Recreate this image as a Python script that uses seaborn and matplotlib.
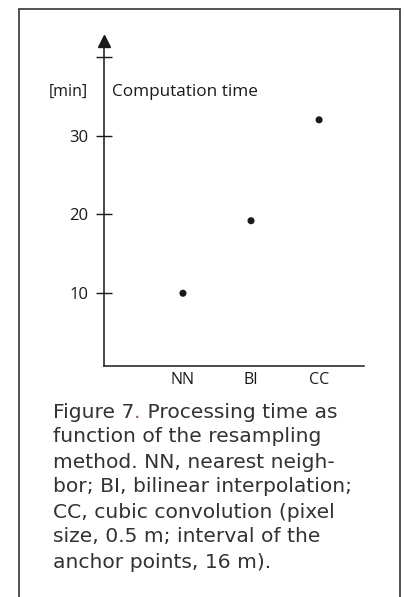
import numpy as np
import pandas as pd
import matplotlib
matplotlib.use("Agg")
import matplotlib.pyplot as plt
from matplotlib.patches import Rectangle
import seaborn as sns

# données
methods = ["NN", "BI", "CC"]
comp_time = [10.0, 19.2, 32.0]
y_ticks = [10, 20, 30, 40]
y_tick_labels = ["10", "20", "30", ""]

caption_lines = ["function of the resampling",
                 "method. NN, nearest neigh-",
                 "bor; BI, bilinear interpolation;",
                 "CC, cubic convolution (pixel",
                 "size, 0.5 m; interval of the",
                 "anchor points, 16 m)."]

sns.set_theme(style="white")
plt.rcParams['font.family'] = ['Open Sans', 'DejaVu Sans']

W, H = 404, 597
fig = plt.figure(figsize=(W / 100, H / 100), dpi=100)
ink = "#1a1a1a"
cap_col = "#333333"
cap_font = ["DejaVu Sans"]
cap_size = 14.6

# cadre autour de la figure
fig.add_artist(Rectangle((18.5 / W, -0.05), (400 - 18.5) / W, 1.05 - 9 / H,
                         transform=fig.transFigure, fill=False,
                         edgecolor="#444444", linewidth=1.3))

# axes positionnés en pixels
x0, x1, y_top, y_bot = 104, 364, 41, 366
ax = fig.add_axes([x0 / W, 1 - y_bot / H, (x1 - x0) / W, (y_bot - y_top) / H])

df = pd.DataFrame({"method": methods, "time": comp_time})
df["pos"] = np.arange(len(methods))
sns.scatterplot(data=df, x="pos", y="time", ax=ax, color=ink, s=26,
                edgecolor="none", zorder=3)

ax.set_xlim(-1.16, 2.66)
ax.set_ylim(0.77, 42.0)
ax.set_xticks(df["pos"])
ax.set_xticklabels(methods, fontsize=11.5, color=ink)
ax.set_yticks(y_ticks)
ax.set_yticklabels(y_tick_labels, fontsize=12, color=ink)
ax.tick_params(axis="x", length=0, pad=4)
ax.tick_params(axis="y", direction="inout", length=12, width=1.0,
               color=ink, pad=5, left=True)
ax.set_xlabel("")
ax.set_ylabel("")
for s in ["top", "right"]:
    ax.spines[s].set_visible(False)
for s in ["left", "bottom"]:
    ax.spines[s].set_color(ink)
    ax.spines[s].set_linewidth(1.1)

# flèche sur l'axe des y
ax.plot([0], [1.0], marker="^", markersize=8, color=ink,
        transform=ax.transAxes, clip_on=False)

fig.text(88 / W, 1 - 92 / H, "[min]", ha="right", va="center",
         fontsize=11.5, color=ink)
fig.text(112 / W, 1 - 92 / H, "Computation time", ha="left", va="center",
         fontsize=12.3, color=ink)

# légende de la figure
renderer = fig.canvas.get_renderer()
y_line = 412
t1 = fig.text(53 / W, 1 - y_line / H, "Figure 7", ha="left", va="center",
              fontsize=cap_size, color=cap_col, family=cap_font)
bb = t1.get_window_extent(renderer)
t2 = fig.text(bb.x1 / W, 1 - y_line / H, ".", ha="left", va="center",
              fontsize=cap_size, color="#c0504d", family=cap_font)
bb2 = t2.get_window_extent(renderer)
fig.text(bb2.x1 / W, 1 - y_line / H, " Processing time as", ha="left",
         va="center", fontsize=cap_size, color=cap_col, family=cap_font)
for i, line in enumerate(caption_lines):
    fig.text(53 / W, 1 - (y_line + 25 * (i + 1)) / H, line, ha="left",
             va="center", fontsize=cap_size, color=cap_col, family=cap_font)

fig.savefig("out.png", dpi=100, facecolor="white")
